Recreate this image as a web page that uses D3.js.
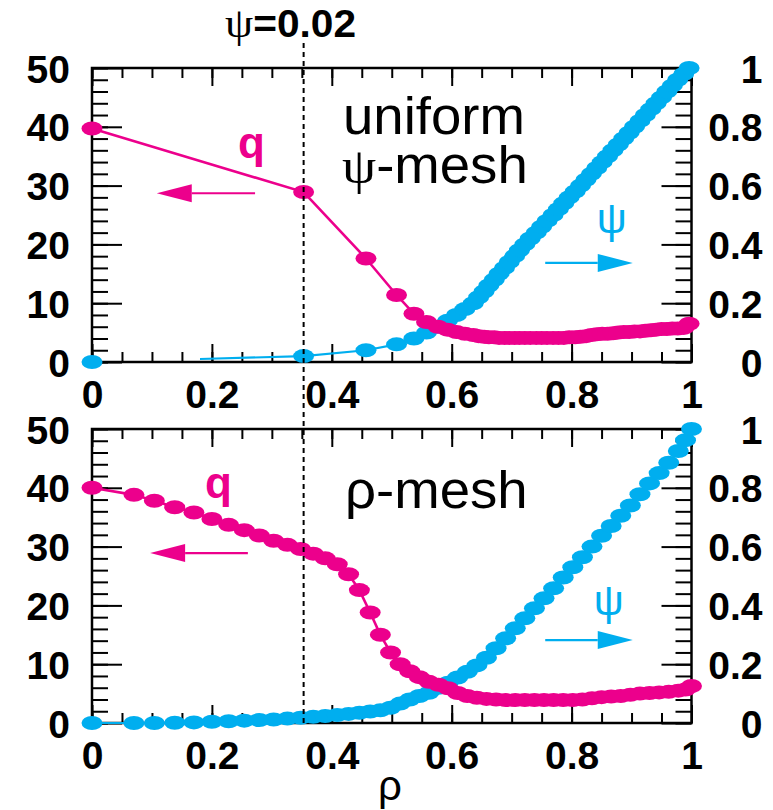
<!DOCTYPE html>
<html>
<head>
<meta charset="utf-8">
<script src="https://cdn.jsdelivr.net/npm/d3@7"></script>
<style>
  body { margin: 0; background: #fff; }
  text { font-family: "Liberation Sans", Arial, sans-serif; }
</style>
</head>
<body>
<svg id="chart" width="773" height="810"></svg>
<script>
// ---- top panel: uniform psi-mesh (psi steps of 0.02) ----
var rhoTop = [0, 0.353, 0.457, 0.508, 0.537, 0.558, 0.577, 0.593, 0.608, 0.622,
  0.636, 0.645, 0.654, 0.662, 0.671, 0.679, 0.688, 0.696, 0.705, 0.713,
  0.722, 0.731, 0.741, 0.75, 0.759, 0.769, 0.778, 0.787, 0.796, 0.806,
  0.815, 0.824, 0.833, 0.842, 0.851, 0.86, 0.869, 0.878, 0.887, 0.896,
  0.905, 0.914, 0.923, 0.932, 0.941, 0.95, 0.959, 0.968, 0.977, 0.987, 0.996];
var psiTop = [0, 0.02, 0.04, 0.06, 0.08, 0.1, 0.12, 0.14, 0.16, 0.18,
  0.2, 0.22, 0.24, 0.26, 0.28, 0.3, 0.32, 0.34, 0.36, 0.38,
  0.4, 0.42, 0.44, 0.46, 0.48, 0.5, 0.52, 0.54, 0.56, 0.58,
  0.6, 0.62, 0.64, 0.66, 0.68, 0.7, 0.72, 0.74, 0.76, 0.78,
  0.8, 0.82, 0.84, 0.86, 0.88, 0.9, 0.92, 0.94, 0.96, 0.98, 1.0];
var qTop = [39.7, 28.9, 17.6, 11.4, 8.2, 6.8, 6.0, 5.5, 5.1, 4.8,
  4.6, 4.4, 4.3, 4.2, 4.2, 4.1, 4.1, 4.1, 4.1, 4.1,
  4.1, 4.1, 4.1, 4.1, 4.1, 4.1, 4.1, 4.1, 4.2, 4.2,
  4.3, 4.4, 4.6, 4.7, 4.8, 4.8, 4.9, 5.0, 5.1, 5.1,
  5.2, 5.2, 5.3, 5.4, 5.5, 5.6, 5.6, 5.7, 5.7, 5.8, 6.5];

// ---- bottom panel: rho-mesh ----
var rhoBot = [0, 0.07, 0.104, 0.138, 0.17, 0.2, 0.228, 0.254, 0.279, 0.303,
  0.326, 0.348, 0.369, 0.389, 0.409, 0.428, 0.446, 0.464, 0.481, 0.498,
  0.514, 0.53, 0.546, 0.562, 0.578, 0.594, 0.61, 0.626, 0.642, 0.658,
  0.674, 0.69, 0.706, 0.722, 0.738, 0.754, 0.77, 0.786, 0.802, 0.818,
  0.834, 0.85, 0.866, 0.882, 0.898, 0.914, 0.93, 0.946, 0.962, 0.978, 0.99, 1.0];
var psiBot = [0, 0, 0, 0.001, 0.002, 0.004, 0.006, 0.008, 0.01, 0.012,
  0.015, 0.018, 0.021, 0.024, 0.027, 0.031, 0.035, 0.039, 0.043, 0.052,
  0.066, 0.08, 0.092, 0.103, 0.12, 0.137, 0.155, 0.174, 0.196, 0.222,
  0.254, 0.288, 0.322, 0.356, 0.39, 0.424, 0.458, 0.495, 0.53, 0.564,
  0.6, 0.637, 0.67, 0.705, 0.74, 0.778, 0.815, 0.85, 0.885, 0.925, 0.962, 1.0];
var qBot = [40.0, 38.8, 37.8, 36.7, 35.8, 34.7, 33.7, 32.8, 31.9, 31.0,
  30.3, 29.6, 28.8, 28.0, 27.0, 25.3, 22.6, 18.8, 15.0, 12.0,
  10.0, 8.8, 7.8, 7.0, 6.5, 5.9, 5.1, 4.6, 4.3, 4.1,
  4.0, 3.9, 3.9, 3.9, 3.9, 3.9, 3.9, 3.9, 3.9, 4.0,
  4.2, 4.4, 4.5, 4.6, 4.8, 5.0, 5.1, 5.2, 5.3, 5.5, 5.7, 6.3];

var xTicks = [0, 0.2, 0.4, 0.6, 0.8, 1];
var xTickLabels = ["0", "0.2", "0.4", "0.6", "0.8", "1"];
var qTicks = [0, 10, 20, 30, 40, 50];
var qTickLabels = ["0", "10", "20", "30", "40", "50"];
var psiTicks = [0, 0.2, 0.4, 0.6, 0.8, 1];
var psiTickLabels = ["0", "0.2", "0.4", "0.6", "0.8", "1"];
var rhoMark = 0.353;   // where psi = 0.02

var pink = "#ec008c", blue = "#00aeef";
var font = "'Liberation Sans', Arial, sans-serif";
var serif = "'Liberation Serif', 'Times New Roman', serif";

var svg = d3.select("#chart");
var x = d3.scaleLinear().domain([0, 1]).range([92, 691.5]);
var ph = 294;

var panels = [
  {top: 68, rho: rhoTop, psi: psiTop, q: qTop, lineStart: 0.18,
   qLab: [0.266, 34.7], qArrow: [0.272, 0.108, 28.7],
   pLab: [0.867, 0.44], pArrow: [0.756, 0.902, 0.337]},
  {top: 429, rho: rhoBot, psi: psiBot, q: qBot, lineStart: 0,
   qLab: [0.211, 38.3], qArrow: [0.26, 0.097, 28.9],
   pLab: [0.862, 0.367], pArrow: [0.756, 0.902, 0.282]}
];

function arrow(g, x1, x2, y, color) {
  var dir = x2 > x1 ? 1 : -1;
  var hx = x2 - dir * 35;
  g.append("line")
    .attr("x1", x1).attr("y1", y).attr("x2", hx).attr("y2", y)
    .attr("stroke", color).attr("stroke-width", 2.2);
  g.append("path")
    .attr("d", "M" + x2 + "," + y + "L" + hx + "," + (y - 9) + "L" + hx + "," + (y + 9) + "Z")
    .attr("fill", color);
}

function styleAxis(a) {
  a.select(".domain").remove();
  a.selectAll("line").attr("stroke", "#000").attr("stroke-width", 2);
  a.selectAll("text").attr("font-family", font).attr("font-size", 39)
    .attr("font-weight", "bold").attr("fill", "#000");
}

// text placed at (px,py), stretched a bit horizontally like the original
function wideText(px, py, size) {
  return svg.append("text")
    .attr("transform", "translate(" + px + "," + py + ") scale(1.07,1)")
    .attr("font-family", font).attr("font-size", size).attr("fill", "#000");
}

panels.forEach(function(p, pi) {
  var yq = d3.scaleLinear().domain([0, 50]).range([p.top + ph, p.top]);
  var yp = d3.scaleLinear().domain([0, 1]).range([p.top + ph, p.top]);
  var g = svg.append("g");
  var bottom = p.top + ph;

  // minor ticks
  g.append("g").attr("transform", "translate(0," + bottom + ")")
    .call(d3.axisBottom(x).tickValues(d3.range(0, 1.001, 0.05)).tickSize(-10).tickFormat(""))
    .call(styleAxis);
  g.append("g").attr("transform", "translate(0," + p.top + ")")
    .call(d3.axisTop(x).tickValues(d3.range(0, 1.001, 0.05)).tickSize(-10).tickFormat(""))
    .call(styleAxis);
  g.append("g").attr("transform", "translate(" + x(0) + ",0)")
    .call(d3.axisLeft(yq).tickValues(d3.range(0, 50.1, 2)).tickSize(-16).tickFormat(""))
    .call(styleAxis);
  g.append("g").attr("transform", "translate(" + x(1) + ",0)")
    .call(d3.axisRight(yp).tickValues(d3.range(0, 1.001, 0.04)).tickSize(-16).tickFormat(""))
    .call(styleAxis);

  // major ticks + labels
  g.append("g").attr("transform", "translate(0," + bottom + ")")
    .call(d3.axisBottom(x).tickValues(xTicks).tickSize(-18).tickPadding(18)
      .tickFormat(function(d, i) { return xTickLabels[i]; }))
    .call(styleAxis);
  g.append("g").attr("transform", "translate(0," + p.top + ")")
    .call(d3.axisTop(x).tickValues(xTicks).tickSize(-18).tickFormat(""))
    .call(styleAxis);
  var la = g.append("g").attr("transform", "translate(" + x(0) + ",0)")
    .call(d3.axisLeft(yq).tickValues(qTicks).tickSize(-30).tickPadding(22)
      .tickFormat(function(d, i) { return qTickLabels[i]; }))
    .call(styleAxis);
  la.selectAll("text").attr("dy", "0.36em");
  var ra = g.append("g").attr("transform", "translate(" + x(1) + ",0)")
    .call(d3.axisRight(yp).tickValues(psiTicks).tickSize(-30)
      .tickFormat(function(d, i) { return psiTickLabels[i]; }))
    .call(styleAxis);
  ra.selectAll("text").attr("text-anchor", "end").attr("x", 71).attr("dy", "0.36em");

  // frame
  g.append("rect")
    .attr("x", x(0)).attr("y", p.top).attr("width", x(1) - x(0)).attr("height", ph)
    .attr("fill", "none").attr("stroke", "#000").attr("stroke-width", 2.5);

  // psi series
  var clipId = "clip" + pi;
  g.append("clipPath").attr("id", clipId).append("rect")
    .attr("x", x(p.lineStart)).attr("y", 0).attr("width", 773).attr("height", 810);
  var pts = p.rho.map(function(r, i) { return [r, p.psi[i], p.q[i]]; });
  g.append("path").datum(pts)
    .attr("clip-path", "url(#" + clipId + ")")
    .attr("d", d3.line().x(function(d) { return x(d[0]); }).y(function(d) { return yp(d[1]); }))
    .attr("fill", "none").attr("stroke", blue).attr("stroke-width", 2.2);
  g.selectAll("ellipse.psi").data(pts).enter().append("ellipse")
    .attr("class", "psi")
    .attr("cx", function(d) { return x(d[0]); }).attr("cy", function(d) { return yp(d[1]); })
    .attr("rx", 10.5).attr("ry", 7).attr("fill", blue);

  // q series
  g.append("path").datum(pts)
    .attr("d", d3.line().x(function(d) { return x(d[0]); }).y(function(d) { return yq(d[2]); }))
    .attr("fill", "none").attr("stroke", pink).attr("stroke-width", 2.6);
  g.selectAll("ellipse.q").data(pts).enter().append("ellipse")
    .attr("class", "q")
    .attr("cx", function(d) { return x(d[0]); }).attr("cy", function(d) { return yq(d[2]); })
    .attr("rx", 10.5).attr("ry", 7).attr("fill", pink);

  // annotations
  g.append("text").attr("x", x(p.qLab[0])).attr("y", yq(p.qLab[1]))
    .attr("text-anchor", "middle").attr("font-family", font).attr("font-weight", "bold")
    .attr("font-size", 44).attr("fill", pink).text("q");
  arrow(g, x(p.qArrow[0]), x(p.qArrow[1]), yq(p.qArrow[2]), pink);
  g.append("text").attr("x", x(p.pLab[0])).attr("y", yp(p.pLab[1]))
    .attr("text-anchor", "middle").attr("font-family", serif)
    .attr("font-size", 42).attr("fill", blue).text("ψ");
  arrow(g, x(p.pArrow[0]), x(p.pArrow[1]), yp(p.pArrow[2]), blue);
});

// mesh titles
wideText(343, 134, 51).text("uniform");
var t2 = wideText(342, 183, 51);
t2.append("tspan").attr("font-family", serif).text("ψ");
t2.append("tspan").text("-mesh");
wideText(345, 508, 51).text("ρ-mesh");

// dashed marker at psi = 0.02
svg.append("line")
  .attr("x1", x(rhoMark)).attr("x2", x(rhoMark)).attr("y1", 43).attr("y2", 429 + ph)
  .attr("stroke", "#000").attr("stroke-width", 2).attr("stroke-dasharray", "5,4");
var lab = wideText(225, 37, 38);
lab.append("tspan").attr("font-family", serif).attr("font-size", 42).text("ψ");
lab.append("tspan").attr("font-weight", "bold").text("=0.02");

// x axis title
svg.append("text").attr("x", 390).attr("y", 800).attr("text-anchor", "middle")
  .attr("font-family", font).attr("font-size", 42).attr("fill", "#000").text("ρ");
</script>
</body>
</html>
